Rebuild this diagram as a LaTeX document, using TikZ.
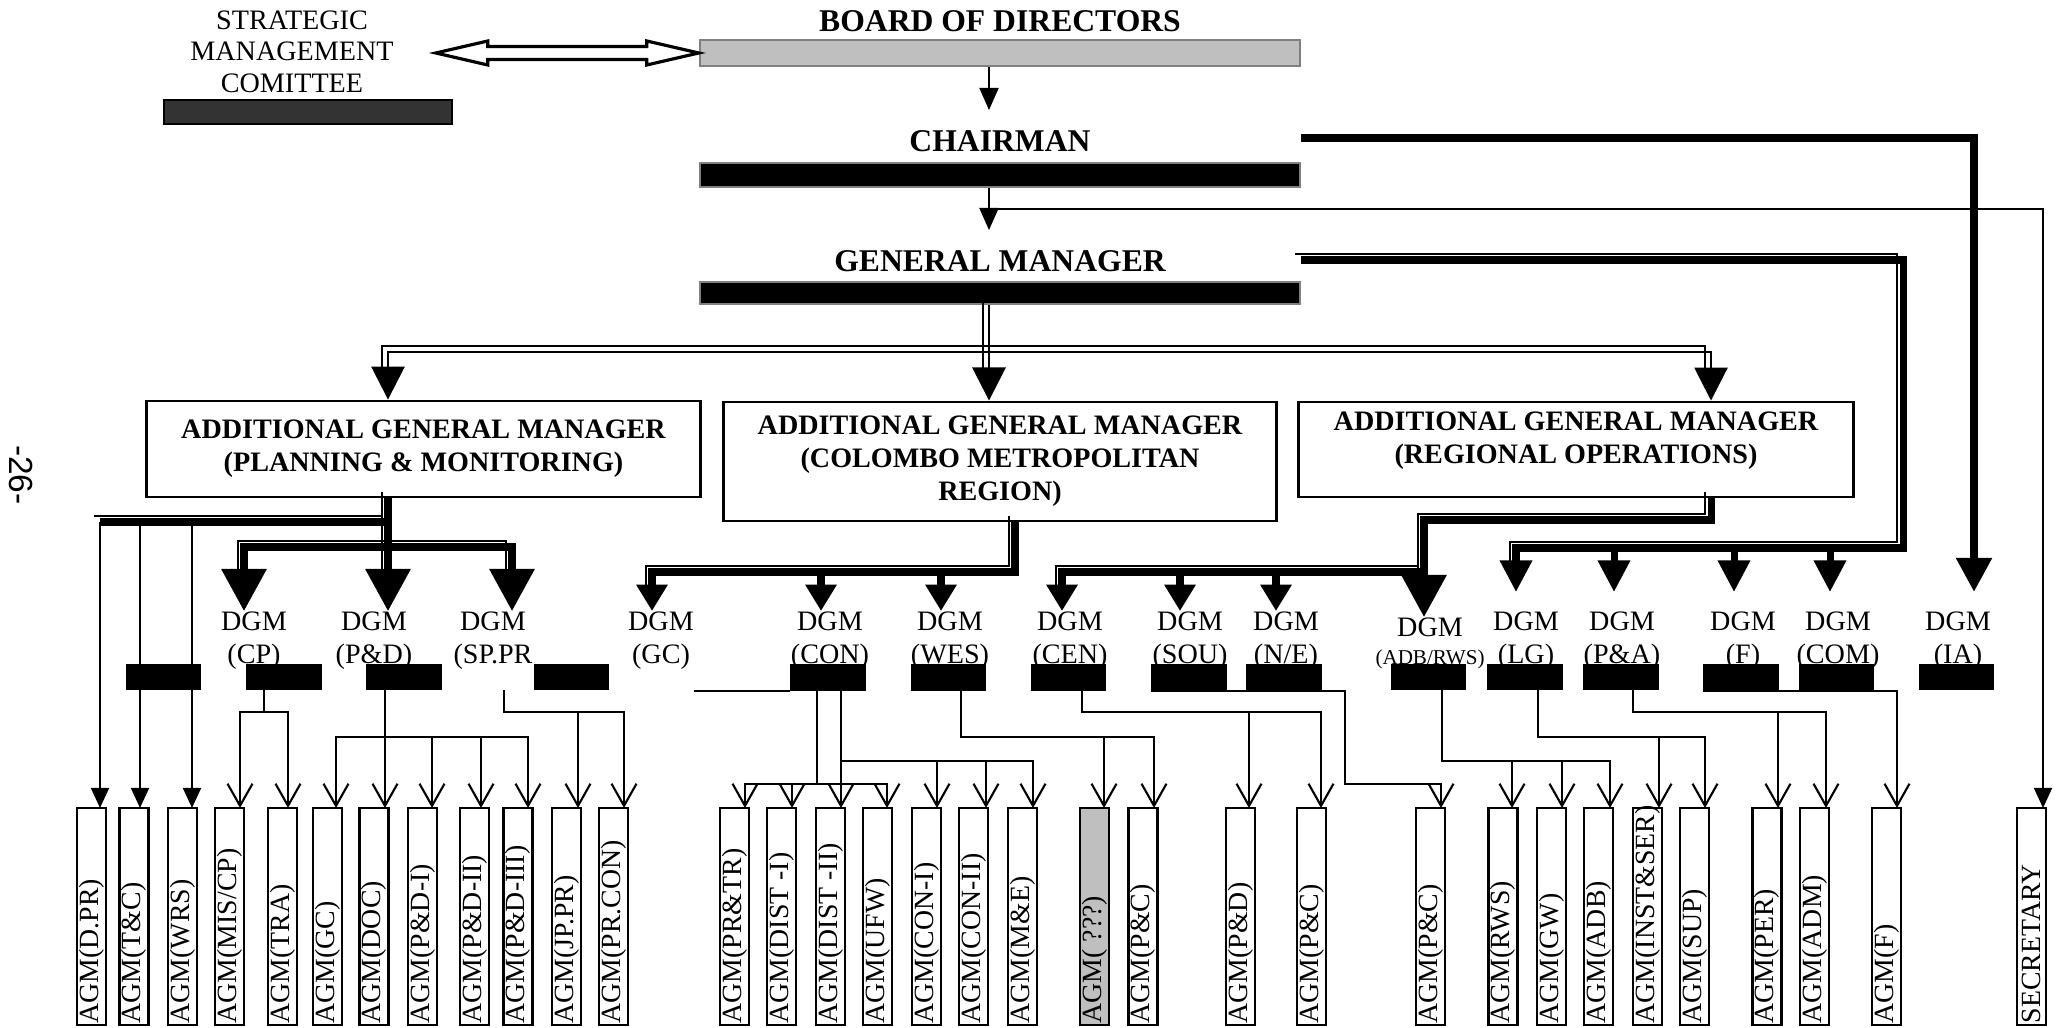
\documentclass[tikz,border=0pt]{standalone}
\usepackage{fontspec}
\setmainfont{Liberation Serif}
\newfontfamily\pagenumfont{Liberation Sans}
\usetikzlibrary{arrows.meta, positioning}

\tikzset{
  conn/.style={line width=0.6pt},
  heavy/.style={line width=2pt},
  thinpart/.style={line width=0.6pt, transform canvas={shift={(-1.8pt,1.8pt)}}},
  opentip/.style={-{Straight Barb[width=7.1pt,length=6.3pt]}},
  filltip/.style={-{Triangle[width=5.1pt,length=5.7pt]}},
  smalltip/.style={-{Triangle[width=5.4pt,length=6.3pt]}},
  tipA/.style={-{Triangle[width=9.4pt,length=9.4pt]}},
  tipB/.style={-{Triangle[width=12.5pt,length=12pt]}},
  tipC/.style={-{Triangle[width=8.5pt,length=7.5pt]}},
  gmtip/.style={-{Triangle[width=8.8pt,length=9pt]}},
  iatip/.style={-{Triangle[width=9.7pt,length=9.7pt]}},
  bar/.style={minimum height=0.24cm, inner sep=0pt, line width=0.6pt},
  dbar/.style={bar, fill=black, draw=black, minimum width=0.73cm},
  ttl/.style={font=\bfseries\fontsize{9}{10}\selectfont, inner sep=0pt},
  mgr/.style={draw, line width=0.8pt, align=center, inner sep=0pt,
    font=\bfseries\fontsize{8}{9.4}\selectfont},
  dgm/.style={font=\fontsize{8}{9.4}\selectfont, align=center, inner sep=0pt, anchor=north},
  abox/.style={draw, line width=0.7pt, minimum width=0.29cm, minimum height=2.17cm, inner sep=0pt},
  alab/.style={rotate=90, anchor=west, inner sep=0.7pt, font=\fontsize{7.9}{8}\selectfont}
}

% thin line above/left of a heavy one
\newcommand{\twoline}[3][]{%
  \draw[thinpart,#1] #3;
  \draw[heavy,#2] #3;}

\begin{document}
\begin{tikzpicture}[x=0.01cm, y=-0.01cm]
\useasboundingbox (0,0) rectangle (2060,1028);

% page number
\node[font=\pagenumfont\fontsize{9.5}{10}\selectfont, rotate=-90, inner sep=0pt] (pg) at (21,475) {-26-};

% top of the chart
\node[font=\fontsize{8}{9}\selectfont, align=center, inner sep=0pt] (smc) at (292,51.5) {STRATEGIC\\MANAGEMENT\\COMITTEE};
\node[bar, fill=black!80, draw=black, minimum width=2.88cm] (smcbar) at (308,112) {};

\node[bar, fill=gray!50, draw=gray, minimum width=6cm, minimum height=0.26cm] (boardbar) at (1000,53) {};
\node[ttl, above=1.7pt of boardbar] (board) {BOARD OF DIRECTORS};
\node[bar, fill=black, draw=gray, minimum width=6cm] (chairbar) at (1000,175) {};
\node[ttl, above=2.6pt of chairbar] (chair) {CHAIRMAN};
\node[bar, fill=black, draw=gray, minimum width=6cm, minimum height=0.22cm] (gmbar) at (1000,293) {};
\node[ttl, above=2.3pt of gmbar] (gm) {GENERAL MANAGER};

% hollow double arrow
\draw[line width=0.9pt, fill=white] (boardbar.west) -- ++(-52,-12) -- ++(0,5.5) -- ++(-159,0) -- ++(0,-5.5)
  -- ++(-52,12) -- ++(52,12) -- ++(0,-5.5) -- ++(159,0) -- ++(0,5.5) -- cycle;

% additional general managers
\node[mgr, minimum width=5.53cm, minimum height=0.96cm] (apm) at (423.5,449) {ADDITIONAL GENERAL MANAGER\\(PLANNING \& MONITORING)};
\node[mgr, minimum width=5.52cm, minimum height=1.19cm] (acm) at (1000,461.5) {ADDITIONAL GENERAL MANAGER\\(COLOMBO METROPOLITAN\\REGION)};
\node[mgr, minimum width=5.54cm, minimum height=0.95cm, text depth=6.5pt] (aro) at (1576,449.5) {ADDITIONAL GENERAL MANAGER\\(REGIONAL OPERATIONS)};

% DGM labels
\node[dgm] (d-cp) at (254,611) {DGM\\(CP)};
\node[dgm] (d-pd) at (374,611) {DGM\\(P\&D)};
\node[dgm] (d-sp) at (493,611) {DGM\\(SP.PR};
\node[dgm] (d-gc) at (661,611) {DGM\\(GC)};
\node[dgm] (d-con) at (830,611) {DGM\\(CON)};
\node[dgm] (d-wes) at (950,611) {DGM\\(WES)};
\node[dgm] (d-cen) at (1070,611) {DGM\\(CEN)};
\node[dgm] (d-sou) at (1190,611) {DGM\\(SOU)};
\node[dgm] (d-ne) at (1286,611) {DGM\\(N/E)};
\node[dgm] (d-adb) at (1430,617) {DGM\\[-1.4pt]{\fontsize{6}{7}\selectfont(ADB/RWS)}};
\node[dgm] (d-lg) at (1526,611) {DGM\\(LG)};
\node[dgm] (d-pa) at (1622,611) {DGM\\(P\&A)};
\node[dgm] (d-f) at (1743,611) {DGM\\(F)};
\node[dgm] (d-com) at (1838,611) {DGM\\(COM)};
\node[dgm] (d-ia) at (1958,611) {DGM\\(IA)};

% DGM bars
\node[dbar] (b0) at (163.5,677) {};
\node[dbar] (b-cp) at (284,677) {};
\node[dbar] (b-pd) at (404,677) {};
\node[dbar] (b-sp) at (571.5,677) {};
\node[dbar] (b-con) at (828,677.5) {};
\node[dbar] (b-wes) at (948.5,677.5) {};
\node[dbar] (b-cen) at (1068.5,677.5) {};
\node[dbar] (b-sou) at (1189,677.5) {};
\node[dbar] (b-ne) at (1284,677.5) {};
\node[dbar] (b-adb) at (1428.5,677) {};
\node[dbar] (b-lg) at (1525,677) {};
\node[dbar] (b-pa) at (1621,677) {};
\node[dbar] (b-f) at (1741,677.5) {};
\node[dbar] (b-com) at (1836.5,677.5) {};
\node[dbar] (b-ia) at (1956.5,677) {};

% bottom boxes
\foreach \cx/\ax/\lab/\fc [count=\i] in {
  91.5/100/AGM(D.PR)/white, 134/140/AGM(T\&C)/white, 182.5/192/AGM(WRS)/white,
  229.5/240/{AGM(MIS/CP)}/white, 282.5/288/AGM(TRA)/white, 327.5/336/AGM(GC)/white,
  374/385/AGM(DOC)/white, 422.5/432/AGM(P\&D-I)/white, 474.5/481/AGM(P\&D-II)/white,
  518/528/AGM(P\&D-III)/white, 566.5/578/AGM(JP.PR)/white, 613.5/624/AGM(PR.CON)/white,
  734.5/745/AGM(PR\&TR)/white, 781.5/792/AGM(DIST -I)/white, 830.5/841/AGM(DIST -II)/white,
  877.5/887/AGM(UFW)/white, 926.5/937/AGM(CON-I)/white, 973.5/986/AGM(CON-II)/white,
  1022.5/1033/AGM(M\&E)/white, 1094.5/1104/AGM( ???)/gray!50, 1143/1154/AGM(P\&C)/white,
  1240.5/1249/AGM(P\&D)/white, 1311.5/1321/AGM(P\&C)/white, 1430.5/1441/AGM(P\&C)/white,
  1503/1512/AGM(RWS)/white, 1551.5/1562/AGM(GW)/white, 1598.5/1610/AGM(ADB)/white,
  1647.5/1659/AGM(INST\&SER)/white, 1694.5/1705/AGM(SUP)/white, 1767/1778/AGM(PER)/white,
  1814.5/1826/AGM(ADM)/white, 1886.5/1897/AGM(F)/white, 2031.5/2043/SECRETARY/white}
{
  \node[abox, fill=\fc, label={[alab]south:\lab}] (a\i) at (\cx,916.5) {};
  \coordinate (t\i) at (\ax,808);
}

% junctions
\coordinate (secJ) at (989,209);
\coordinate (gmJ) at (989,352);
\coordinate (gmR) at (1903,260);
\coordinate (gmD) at (1903,548);
\coordinate (chR) at (1974,138);
\coordinate (pmA) at (388,522);
\coordinate (pmL) at (100,522);
\coordinate (pmB) at (388,547);
\coordinate (cmA) at (1015,572);
\coordinate (roA) at (1711,520);
\coordinate (roB) at (1424,520);
\coordinate (roC) at (1424,572);

% board -> chairman -> general manager, secretary
\draw[conn, smalltip, shorten >=5.7pt] (boardbar.south -| secJ) -- (chair.north -| secJ);
\draw[conn, smalltip, shorten >=5.7pt] (chairbar.south -| secJ) -- (gm.north -| secJ);
\draw[conn, filltip] (secJ) -| (t33);

% chairman -> DGM(IA)
\draw[line width=2.3pt, iatip, shorten >=5.4pt] (chR -| chairbar.east) -- (chR) -- (d-ia.north -| chR);

% general manager -> AGMs
\twoline[shorten >=4pt]{line width=0.8pt, tipA}{(gmbar.south -| gmJ) -- (acm.north -| gmJ)}
\twoline[shorten >=4pt]{line width=0.8pt, tipA}{(gmJ) -| (apm.north -| pmA)}
\twoline[shorten >=4pt]{line width=0.8pt, tipA}{(gmJ) -| (aro.north -| roA)}

% general manager -> DGMs on the right
\twoline[shorten >=9pt]{gmtip, shorten >=5.4pt}{(gmR -| gmbar.east) -- (gmR) -- (gmD) -| (d-lg.north -| 1516,0)}
\foreach \x in {1614,1734,1830}
  \draw[heavy, gmtip, shorten >=5.4pt] (gmD -| \x,0) -- (d-pa.north -| \x,0);

% AGM (planning & monitoring)
\twoline[shorten >=4pt]{tipB}{(apm.south -| pmA) -- (d-pd.north -| pmA)}
\twoline{}{(pmA) -- (pmL)}
\twoline[shorten >=4pt]{tipB}{(pmB) -| (d-cp.north -| 244,0)}
\twoline[shorten >=4pt]{tipB}{(pmB) -| (d-sp.north -| 512,0)}

% AGM (colombo metropolitan region)
\twoline[shorten >=4pt]{tipC}{(acm.south -| cmA) -- (cmA) -| (d-gc.north -| 652,0)}
\foreach \x in {821,941}
  \draw[heavy, tipC] (cmA -| \x,0) -- (d-con.north -| \x,0);

% AGM (regional operations)
\twoline[shorten >=4pt]{tipB}{(aro.south -| roA) -- (roA) -- (roB) -- (d-adb.north -| roB)}
\twoline[shorten >=4pt]{tipC}{(roC) -| (d-cen.north -| 1062,0)}
\foreach \x in {1180,1276}
  \draw[heavy, tipC] (roC -| \x,0) -- (d-sou.north -| \x,0);

% DGMs -> AGMs
\draw[conn, filltip] (pmL) -- (t1);
\draw[conn, filltip] (pmA -| t2) -- (t2);
\draw[conn, filltip] (pmA -| t3) -- (t3);

\draw[conn, opentip] (b-cp.south -| 264,0) -- (264,712) -| (t4);
\draw[conn, opentip] (264,712) -| (t5);
\draw[conn, opentip] (b-pd.south -| t7) -- (t7);
\draw[conn, opentip] (t7 |- 0,737) -| (t6);
\draw[conn, opentip] (t7 |- 0,737) -| (t10);
\foreach \k in {8,9}
  \draw[conn, opentip] (t\k |- 0,737) -- (t\k);
\draw[conn, opentip] (b-sp.south -| 504,0) -- (504,712) -| (t12);
\draw[conn, opentip] (t11 |- 0,712) -- (t11);

\draw[conn] (b-con.south west) -- ++(-96,0);
\draw[conn, opentip] (b-con.south -| 817,0) -- (817,784) -| (t13);
\draw[conn, opentip] (817,784) -| (t16);
\draw[conn, opentip] (t14 |- 0,784) -- (t14);
\draw[conn, opentip] (b-con.south -| t15) -- (t15);
\draw[conn, opentip] (t15 |- 0,761) -| (t19);
\foreach \k in {17,18}
  \draw[conn, opentip] (t\k |- 0,761) -- (t\k);

\draw[conn, opentip] (b-wes.south -| 961,0) -- (961,737) -| (t21);
\draw[conn, opentip] (t20 |- 0,737) -- (t20);
\draw[conn, opentip] (b-cen.south -| 1082,0) -- (1082,712) -| (t23);
\draw[conn, opentip] (t22 |- 0,712) -- (t22);
\draw[conn, opentip] (b-sou.south west) -| (1345,784) -| (t24);

\draw[conn, opentip] (b-adb.south -| 1442,0) -- (1442,761) -| (t27);
\foreach \k in {25,26}
  \draw[conn, opentip] (t\k |- 0,761) -- (t\k);
\draw[conn, opentip] (b-lg.south -| 1538,0) -- (1538,737) -| (t29);
\draw[conn, opentip] (t28 |- 0,737) -- (t28);
\draw[conn, opentip] (b-pa.south -| 1633,0) -- (1633,712) -| (t31);
\draw[conn, opentip] (t30 |- 0,712) -- (t30);
\draw[conn, opentip] (b-f.south west) -| (t32);
\end{tikzpicture}
\end{document}
